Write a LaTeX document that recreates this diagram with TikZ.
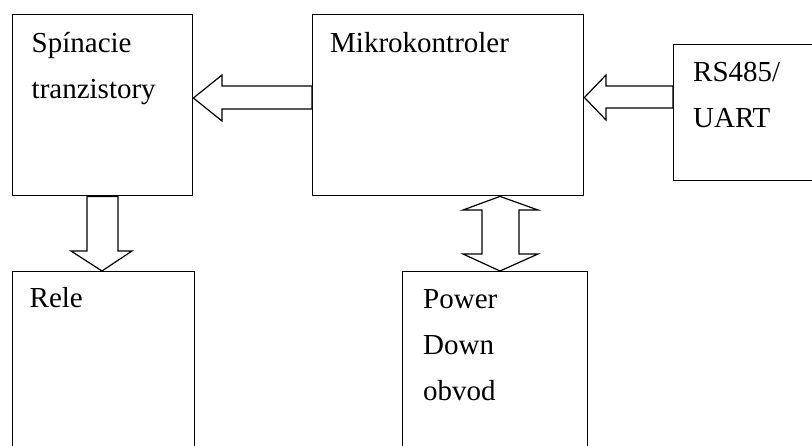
\documentclass[tikz,border=0pt]{standalone}
\usepackage{fontspec}
\setmainfont{Liberation Serif}
\usetikzlibrary{positioning}
\begin{document}
\begin{tikzpicture}[x=1pt,y=-1pt,blok/.style n args={2}{draw,line width=1.4pt,minimum width=#1,minimum height=#2,anchor=north west,inner sep=0pt},popis/.style={anchor=north west,align=left,inner sep=0pt,font=\fontsize{29}{46}\selectfont},sipka/.style={draw,line width=1.2pt,line join=miter,fill=white}]
\useasboundingbox (0,0) rectangle (812,445);
\clip (0,0) rectangle (812,445);
% bloky
\node[blok={180.5}{181}] (tranz) at (11.5,14) {};
\node[blok={271}{181}] (mcu) at (312,14) {};
\node[blok={160}{136}] (uart) at (673,44) {};
\node[blok={182}{200}] (rele) at (11.5,271) {};
\node[blok={185}{200}] (pdown) at (402,271) {};
% popisy
\node[popis,below right=18pt and 20pt of tranz.north west] (tranzT) {Spínacie\\tranzistory};
\node[popis,below right=18pt and 18pt of mcu.north west] (mcuT) {Mikrokontroler};
\node[popis,below right=18pt and 20pt of uart.north west] (uartT) {RS485/\\UART};
\node[popis,below right=16pt and 18pt of rele.north west] (releT) {Rele};
\node[popis,below right=18pt and 21pt of pdown.north west] (pdownT) {Power\\Down\\obvod};
% sipky
\draw[sipka] (mcu.west |- 0,86) -- (222,86) -- (222,75) -- (tranz.east |- 0,98)
   -- (222,121) -- (222,109) -- (mcu.west |- 0,109) -- cycle;
\draw[sipka] (uart.west |- 0,86) -- (606,86) -- (606,75) -- (mcu.east |- 0,97.5)
   -- (606,120) -- (606,108) -- (uart.west |- 0,108) -- cycle;
\draw[sipka] (87,0 |- tranz.south) -- (87,251) -- (71,251) -- (102,0 |- rele.north)
   -- (132,251) -- (118,251) -- (118,0 |- tranz.south) -- cycle;
\draw[sipka] (500,0 |- mcu.south) -- (538,210) -- (519,210) -- (519,254) -- (538,254)
   -- (500,0 |- pdown.north) -- (463,254) -- (482,254) -- (482,210) -- (463,210) -- cycle;
\end{tikzpicture}
\end{document}
